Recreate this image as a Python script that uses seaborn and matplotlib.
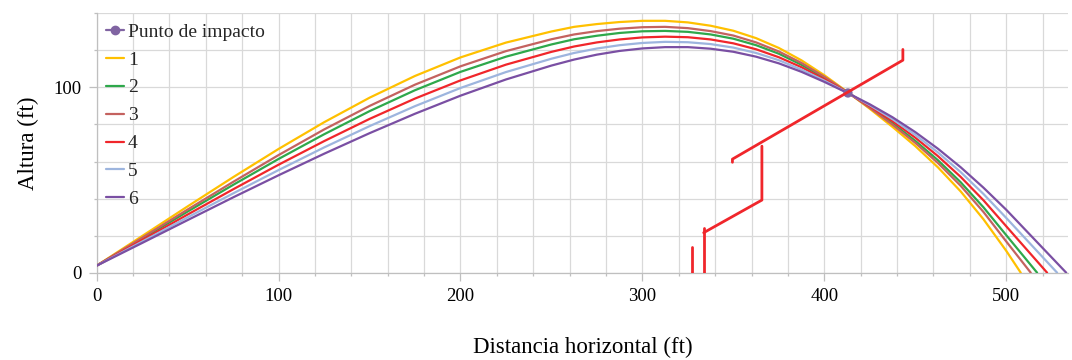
import matplotlib
matplotlib.use("Agg")
import matplotlib.pyplot as plt
import seaborn as sns
from matplotlib.lines import Line2D
from matplotlib.ticker import MultipleLocator

# distancia horizontal común de las trayectorias (ft)
x_comun = [0, 25, 50, 75, 100, 125, 150, 175, 200, 225,
           250, 262.5, 275, 287.5, 300, 312.5, 325, 337.5, 350, 362.5, 375,
           387.5, 400, 413, 425, 437.5, 450, 462.5, 475, 487.5, 500]

# alturas (ft)
alt_1 = [3.8, 19.8, 35.8, 51.55, 66.8, 81.2, 94.45, 106.2, 116.2, 124.2,
         130.2, 132.7, 134.2, 135.3, 135.95, 135.95, 135.1, 133.3, 130.6, 126.6, 121.3,
         114.6, 106.6, 97.35, 88.5, 78.7, 68.35, 56.85, 43.85, 28.85, 11.85]
alt_2 = [3.8, 18.4, 33.0, 47.4, 61.4, 74.7, 87.2, 98.5, 108.4, 116.6,
         123.2, 126.0, 127.9, 129.4, 130.3, 130.5, 130.0, 128.6, 126.3, 122.8, 118.2,
         112.2, 105.2, 97.2, 89.4, 80.7, 71.2, 60.7, 48.8, 35.3, 20.3]
alt_3 = [3.8, 18.9, 34.1, 49.0, 63.5, 77.3, 90.0, 101.5, 111.4, 119.6,
         126.0, 128.6, 130.4, 131.7, 132.5, 132.7, 132.0, 130.4, 128.0, 124.3, 119.4,
         113.2, 105.8, 97.2, 89.0, 79.9, 70.1, 59.2, 46.9, 32.8, 16.9]
alt_4 = [3.8, 17.6, 31.4, 45.0, 58.3, 71.0, 83.0, 94.0, 103.8, 112.3,
         119.2, 122.1, 124.3, 125.9, 127.0, 127.4, 127.1, 125.9, 123.8, 120.6, 116.3,
         110.9, 104.4, 97.1, 89.9, 81.8, 72.9, 62.9, 51.7, 39.1, 25.1]
alt_5 = [3.8, 16.8, 29.9, 42.8, 55.4, 67.6, 79.1, 89.9, 99.7, 108.3,
         115.5, 118.6, 121.0, 122.8, 124.0, 124.6, 124.4, 123.4, 121.5, 118.6, 114.7,
         109.6, 103.7, 97.0, 90.4, 82.9, 74.4, 64.9, 54.3, 42.5, 29.6]
alt_6 = [3.8, 16.05, 28.4, 40.65, 52.6, 64.2, 75.3, 85.8, 95.55, 104.3,
         111.8, 115.05, 117.7, 119.7, 121.05, 121.75, 121.75, 120.9, 119.25, 116.6, 113.0,
         108.4, 103.0, 96.9, 90.9, 83.9, 75.9, 66.9, 56.9, 45.9, 34.0]

# donde cada trayectoria toca el suelo (ft)
x_suelo = [508, 517, 513.5, 522.5, 528, 533]

nombres = ["1", "2", "3", "4", "5", "6"]
colores = ["#FFC000", "#2EA84B", "#C4625F", "#F0262B", "#9DB5DE", "#7A4FA3"]

# punto de impacto
impacto_x = [413]
impacto_y = [97]

# estructura roja
estr_a_x = [443.2, 443.2, 349.5, 349.5]
estr_a_y = [120.5, 114.7, 61.3, 59.6]
estr_b_x = [365.7, 365.7, 333.7]
estr_b_y = [68.3, 39.2, 21.6]
estr_c_x = [333.7, 333.7]
estr_c_y = [24.3, 0]
estr_d_x = [327.5, 327.5]
estr_d_y = [13.7, 0]

sns.set_theme(style="white")
plt.rcParams["font.family"] = ["Liberation Serif", "DejaVu Serif"]

fig, ax = plt.subplots(figsize=(10.72, 3.6), dpi=100)
fig.subplots_adjust(left=0.0902, right=0.9963, bottom=0.2425, top=0.963)

alturas = [alt_1, alt_2, alt_3, alt_4, alt_5, alt_6]
for i, alt in enumerate(alturas):
    xs = x_comun + [x_suelo[i]]
    ys = alt + [0]
    sns.lineplot(x=xs, y=ys, color=colores[i], linewidth=1.6,
                 estimator=None, sort=False, ax=ax, zorder=3)

sns.scatterplot(x=impacto_x, y=impacto_y, color="#8064A2", s=45,
                edgecolor="none", ax=ax, zorder=4)

for ex, ey in [(estr_a_x, estr_a_y), (estr_b_x, estr_b_y),
               (estr_c_x, estr_c_y), (estr_d_x, estr_d_y)]:
    sns.lineplot(x=ex, y=ey, color="#F0262B", linewidth=2.0,
                 estimator=None, sort=False, ax=ax, zorder=5)

ax.set_xlim(0, 534)
ax.set_ylim(0, 140)
ax.xaxis.set_major_locator(MultipleLocator(100))
ax.xaxis.set_minor_locator(MultipleLocator(20))
ax.yaxis.set_major_locator(MultipleLocator(100))
ax.yaxis.set_minor_locator(MultipleLocator(20))
ax.grid(True, which="both", color="#D9D9D9", linewidth=0.9)
ax.set_axisbelow(True)

for lado in ["top", "right"]:
    ax.spines[lado].set_visible(False)
for lado in ["left", "bottom"]:
    ax.spines[lado].set_color("#BFBFBF")
    ax.spines[lado].set_linewidth(0.9)

ax.tick_params(which="major", length=6, width=0.9, color="#BFBFBF",
               pad=5, labelsize=13.5, labelcolor="black")
ax.tick_params(which="minor", length=2.5, width=0.9, color="#BFBFBF")
ax.tick_params(axis="x", which="both", bottom=True)
ax.tick_params(axis="y", which="both", left=True)

ax.set_xlabel("Distancia horizontal (ft)", fontsize=16.5, labelpad=23, color="black")
ax.set_ylabel("Altura (ft)", fontsize=16.5, labelpad=10, color="black")

handles = [Line2D([], [], color="#8064A2", linewidth=1.6, marker="o",
                  markersize=6)]
handles += [Line2D([], [], color=c, linewidth=1.6) for c in colores]
ax.legend(handles=handles, labels=["Punto de impacto"] + nombres,
          loc="upper left", frameon=False, fontsize=14,
          handlelength=0.9, handletextpad=0.2, labelspacing=0.53,
          borderpad=0.2, borderaxespad=0.3)

plt.savefig("out.png", dpi=100)
